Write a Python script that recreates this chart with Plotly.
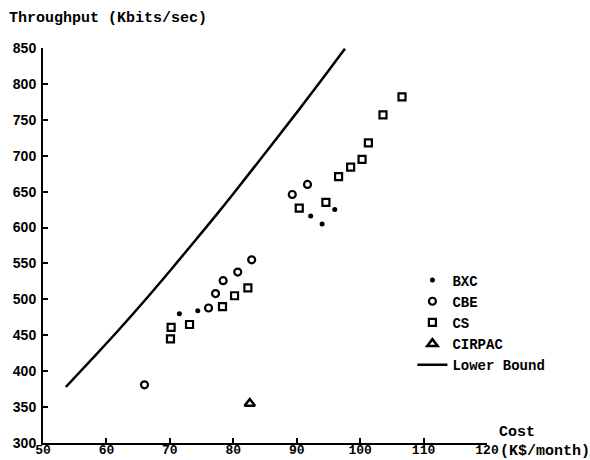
import plotly.graph_objects as go

# ---- data ----
bxc_cost = [71.5, 74.4, 92.2, 94.0, 96.0]
bxc_thr = [480, 484, 616, 605, 625]

cbe_cost = [66.0, 76.1, 77.2, 78.4, 80.7, 82.9, 89.3, 91.7]
cbe_thr = [381, 488, 508, 526, 538, 555, 646, 660]

cs_cost = [70.1, 70.2, 73.1, 78.3, 80.2, 82.3, 90.4, 94.6, 96.6, 98.5, 100.3, 101.3, 103.6, 106.6]
cs_thr = [445, 461, 465, 490, 505, 516, 627, 635, 671, 684, 695, 718, 757, 782]

cirpac_cost = [82.6, 121.5]
cirpac_thr = [355, 700]

lb_cost = [53.6, 58, 62, 66, 70, 74, 78, 82, 86, 90, 94, 97.6]
lb_thr = [378, 419.5, 458, 498, 539.5, 582, 625, 669.5, 714.5, 760, 806.5, 849]

x_ticks = [50, 60, 70, 80, 90, 100, 110, 120]
y_ticks = [300, 350, 400, 450, 500, 550, 600, 650, 700, 750, 800, 850]

MONO = "Liberation Mono"

fig = go.Figure()
fig.add_trace(go.Scatter(x=bxc_cost, y=bxc_thr, mode="markers", name="BXC",
                         marker=dict(symbol="circle", size=5, color="black"),
                         cliponaxis=False))
fig.add_trace(go.Scatter(x=cbe_cost, y=cbe_thr, mode="markers", name="CBE",
                         marker=dict(symbol="circle-open", size=7, color="black",
                                     line=dict(width=2.2, color="black")),
                         cliponaxis=False))
fig.add_trace(go.Scatter(x=cs_cost, y=cs_thr, mode="markers", name="CS",
                         marker=dict(symbol="square-open", size=7, color="black",
                                     line=dict(width=2.2, color="black")),
                         cliponaxis=False))
fig.add_trace(go.Scatter(x=cirpac_cost, y=cirpac_thr, mode="markers", name="CIRPAC",
                         marker=dict(symbol="triangle-up-open", size=9, color="black",
                                     line=dict(width=2.5, color="black")),
                         cliponaxis=False))
fig.add_trace(go.Scatter(x=lb_cost, y=lb_thr, mode="lines", name="Lower Bound",
                         line=dict(color="black", width=2.5, shape="spline", smoothing=1.0),
                         cliponaxis=False))

fig.update_layout(
    width=590, height=460,
    margin=dict(l=43, r=103, t=48, b=17),
    paper_bgcolor="white", plot_bgcolor="white",
    font=dict(family=MONO, color="black"),
    showlegend=True,
    legend=dict(x=0.832, y=0.452, xanchor="left", yanchor="top",
                bgcolor="rgba(0,0,0,0)", tracegroupgap=0,
                font=dict(family=MONO, size=14, color="black", weight="bold")),
    xaxis=dict(range=[50, 120], tickvals=x_ticks, ticktext=[str(v) for v in x_ticks],
               showgrid=False, zeroline=False, showline=True, linecolor="black", linewidth=2,
               ticks="inside", ticklen=5, tickwidth=1.5, tickcolor="black",
               tickfont=dict(family=MONO, size=13, color="black", weight="bold"),
               ticklabelstandoff=-7, automargin=False),
    yaxis=dict(range=[300, 850], tickvals=y_ticks, ticktext=[str(v) for v in y_ticks],
               showgrid=False, zeroline=False, showline=True, linecolor="black", linewidth=2,
               ticks="inside", ticklen=5, tickwidth=1.5, tickcolor="black",
               tickfont=dict(family="Liberation Sans", size=14, color="black", weight="bold"),
               ticklabelstandoff=2, automargin=False),
)

fig.add_annotation(text="Throughput (Kbits/sec)", xref="paper", yref="paper",
                   x=(7 - 43) / 444, y=(443 - 18) / 395, xanchor="left", yanchor="middle",
                   showarrow=False, font=dict(family=MONO, size=15, color="black", weight="bold"))
fig.add_annotation(text="Cost", xref="paper", yref="paper",
                   x=(497 - 43) / 444, y=(443 - 432) / 395, xanchor="left", yanchor="middle",
                   showarrow=False, font=dict(family=MONO, size=15, color="black", weight="bold"))
fig.add_annotation(text="(K$/month)", xref="paper", yref="paper",
                   x=(498 - 43) / 444, y=(443 - 451) / 395, xanchor="left", yanchor="middle",
                   showarrow=False, font=dict(family=MONO, size=15, color="black", weight="bold"))

fig.write_html("out.html", config={"displayModeBar": False},
               post_script="document.body.style.margin='0';document.body.style.overflow='hidden';")
